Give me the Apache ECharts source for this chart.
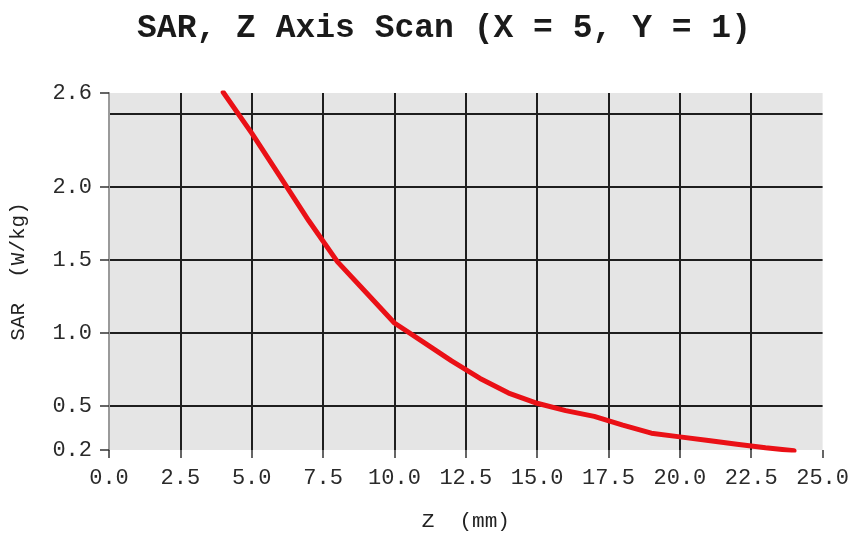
<!DOCTYPE html>
<html>
<head>
<meta charset="utf-8">
<script src="https://cdn.jsdelivr.net/npm/echarts@6/dist/echarts.min.js"></script>
<style>
  html, body { margin: 0; padding: 0; background: #ffffff; }
  #chart { width: 852px; height: 537px; }
</style>
</head>
<body>
<div id="chart"></div>
<script>
// Z-axis scan positions (mm) and measured SAR (W/kg)
const zPositions = [4, 5, 6, 7, 8, 9, 10, 11, 12, 13, 14, 15, 16, 17, 18, 19, 20, 21, 22, 23, 24];
const sarValues = [2.65, 2.37, 2.07, 1.77, 1.49, 1.28, 1.07, 0.94, 0.81, 0.69, 0.59, 0.52, 0.47, 0.43, 0.37, 0.315, 0.29, 0.265, 0.24, 0.215, 0.195];

// Axis ranges and labelled ticks
const zMin = 0, zMax = 25, zStep = 2.5;
const sarMin = 0.2, sarMax = 2.645;
const sarLabelTicks = [0.2, 0.5, 1.0, 1.5, 2.0, 2.645];

const titleText = 'SAR, Z Axis Scan (X = 5, Y = 1)';
const xName = 'Z  (mm)';
const yName = 'SAR  (W/kg)';

const mono = '"Liberation Mono", "DejaVu Sans Mono", monospace';
const chart = echarts.init(document.getElementById('chart'), null, { renderer: 'canvas' });

chart.setOption({
  animation: false,
  backgroundColor: '#ffffff',
  title: {
    text: titleText,
    left: 439,
    top: 7,
    textAlign: 'center',
    textStyle: { fontFamily: mono, fontWeight: 'bold', fontSize: 33, color: '#1a1a1a' }
  },
  grid: {
    left: 109, right: 27, top: 93, bottom: 87,
    show: true, backgroundColor: '#e5e5e5', borderWidth: 0
  },
  xAxis: {
    type: 'value',
    min: zMin, max: zMax, interval: zStep,
    name: xName,
    nameLocation: 'middle',
    nameGap: 61,
    nameTextStyle: { fontFamily: mono, fontSize: 21, color: '#222' },
    axisLine: { show: false },
    axisTick: { show: true, length: 8, lineStyle: { color: '#333', width: 1.5 } },
    axisLabel: {
      margin: 17, fontFamily: mono, fontSize: 22, color: '#2a2a2a',
      formatter: v => v.toFixed(1)
    },
    splitLine: {
      show: true, showMinLine: false, showMaxLine: false,
      lineStyle: { color: '#1e1e1e', width: 2 }
    }
  },
  yAxis: [
    {
      // gridlines at the regular 0.5 steps
      type: 'value',
      min: sarMin, max: sarMax,
      axisLine: { show: false },
      axisTick: { show: false },
      axisLabel: { show: false },
      splitLine: {
        show: true, showMinLine: false, showMaxLine: false,
        lineStyle: { color: '#1e1e1e', width: 2 }
      }
    },
    {
      // labelled axis with ticks at the range ends and half-units
      type: 'value',
      position: 'left',
      min: sarMin, max: sarMax,
      name: yName,
      nameLocation: 'middle',
      nameGap: 80,
      nameRotate: 90,
      nameTextStyle: { fontFamily: mono, fontSize: 21, color: '#222' },
      axisLine: { show: true, onZero: false, lineStyle: { color: '#9a9a9a', width: 2 } },
      axisTick: { show: true, length: 9, customValues: sarLabelTicks, lineStyle: { color: '#333', width: 1.5 } },
      axisLabel: {
        margin: 17, fontFamily: mono, fontSize: 22, color: '#2a2a2a',
        customValues: sarLabelTicks,
        formatter: v => v.toFixed(1)
      },
      splitLine: { show: false }
    }
  ],
  series: [{
    type: 'line',
    yAxisIndex: 0,
    data: zPositions.map((z, i) => [z, sarValues[i]]),
    showSymbol: false,
    smooth: false,
    clip: true,
    lineStyle: { color: '#ea1016', width: 5, cap: 'round', join: 'round' }
  }]
});
</script>
</body>
</html>
